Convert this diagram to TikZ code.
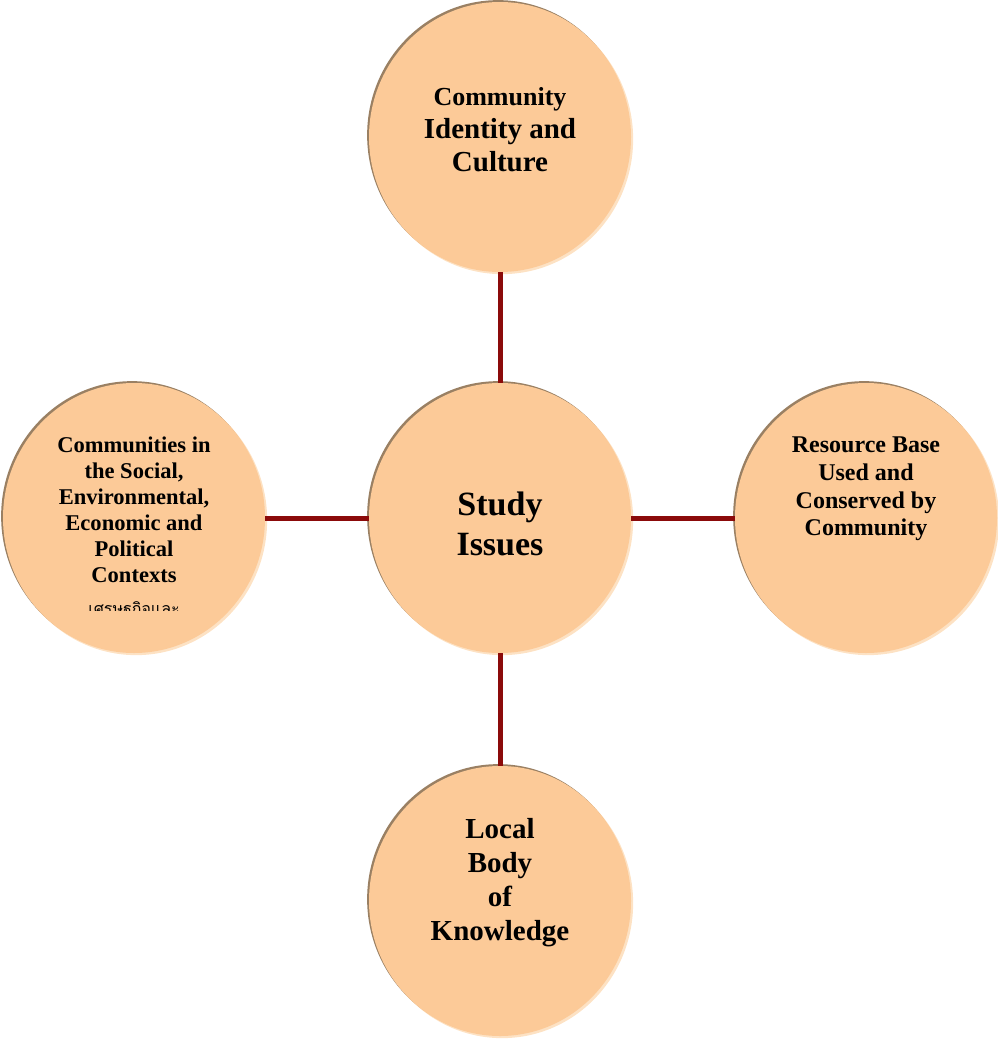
\documentclass[tikz,border=0pt]{standalone}
\usepackage{fontspec}
\setmainfont{Liberation Serif}
\newfontfamily\thaifont[Script=Thai]{Loma}
\usetikzlibrary{shapes.geometric}
\definecolor{peach}{HTML}{FCCA98}
\definecolor{bevdark}{HTML}{9A8063}
\definecolor{bevlight}{HTML}{FDE2C4}
\definecolor{spoke}{HTML}{8B0A0A}
\tikzset{
  disc/.style={ellipse, inner sep=0pt, minimum width=196.5pt, minimum height=202.5pt,
    fill=peach,
    preaction={fill=bevlight, transform canvas={shift={(1.6pt,-1.6pt)}}},
    preaction={fill=bevdark, transform canvas={shift={(-1.4pt,1.4pt)}}}},
  lbl/.style={align=center, inner sep=0pt, font=\bfseries},
  spokeline/.style={draw=spoke, line width=3.75pt}
}
\begin{document}
\begin{tikzpicture}[x=0.75pt,y=-0.75pt]
\useasboundingbox (0,0) rectangle (997,1039);
% the five discs
\node[disc] (top) at (500,137) {};
\node[disc] (mid) at (500,518) {};
\node[disc] (lft) at (134,518) {};
\node[disc] (rgt) at (866,518) {};
\node[disc] (bot) at (500,901) {};
% spokes from the centre disc
\draw[spokeline] (mid.north) -- (top.south);
\draw[spokeline] (mid.south) -- (bot.north);
\draw[spokeline] (mid.west) -- (lft.east);
\draw[spokeline] (mid.east) -- (rgt.west);
% labels
\node[lbl, font=\bfseries\fontsize{21.75pt}{24.75pt}\selectfont] (toptxt) at (500,130)
  {{\fontsize{19.5pt}{24.75pt}\selectfont Community}\\ Identity and\\ Culture};
\node[lbl, font=\bfseries\fontsize{25.5pt}{30pt}\selectfont] (midtxt) at (500,524) {Study\\ Issues};
\node[lbl, font=\bfseries\fontsize{16.9pt}{19.5pt}\selectfont] (lfttxt) at (134,510)
  {Communities in\\ the Social,\\ Environmental,\\ Economic and\\ Political\\ Contexts};
\begin{scope}
  \clip (0,560) rectangle (270,610);
  \node[inner sep=0pt, anchor=north, font=\thaifont\fontsize{12pt}{14pt}\selectfont] (thai) at (134,601) {เศรษฐกิจและ};
\end{scope}
\node[lbl, font=\bfseries\fontsize{18pt}{20.8pt}\selectfont] (rgttxt) at (866,489)
  {Resource Base\\ Used and\\ Conserved by\\ Community};
\node[lbl, font=\bfseries\fontsize{21.75pt}{25.5pt}\selectfont] (bottxt) at (500,883)
  {Local\\ Body\\ of\\ Knowledge};
\end{tikzpicture}
\end{document}
